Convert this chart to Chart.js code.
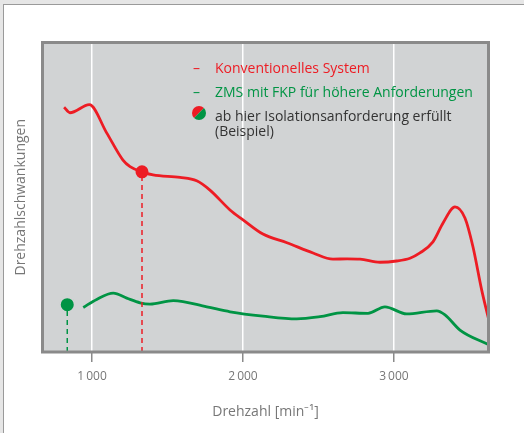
<!DOCTYPE html>
<html>
<head>
<meta charset="utf-8">
<script src="https://cdn.jsdelivr.net/npm/chart.js@4"></script>
<style>
  html, body { margin: 0; padding: 0; background: #e6e6e6; }
  #panel { position: absolute; left: 3px; top: 4px; width: 540px; height: 450px; background: #fff; border: 1px solid #9a9a9a; }
  #wrap { position: absolute; left: 0; top: 0; width: 524px; height: 433px; }
</style>
</head>
<body>
<div id="panel"></div>
<div id="wrap"><canvas id="chart" width="524" height="433"></canvas></div>
<script>
// Drehzahl [min-1] / relative Drehzahlschwankung (0..100)
const redX = [815, 854, 982, 1097, 1205, 1252, 1331, 1404, 1583, 1693, 1781, 1914, 2000, 2132, 2291, 2464, 2596, 2689, 2775, 2907, 3018, 3106, 3172, 3258, 3325, 3404, 3470, 3523, 3581, 3625];
const redY = [79.1, 77.3, 79.9, 70.8, 62.0, 59.9, 58.2, 57.2, 56.4, 55.3, 52.3, 45.9, 42.7, 38.1, 35.3, 32.0, 30.0, 30.1, 30.0, 29.0, 29.4, 30.3, 32.0, 35.6, 41.7, 46.9, 43.3, 34.0, 20.0, 11.0];

const greenX = [942, 1031, 1141, 1230, 1318, 1384, 1538, 1760, 1914, 2132, 2356, 2510, 2662, 2828, 2940, 3084, 3283, 3338, 3437, 3625];
const greenY = [14.4, 17.0, 19.0, 17.4, 15.9, 15.5, 16.6, 14.6, 13.0, 11.6, 10.7, 11.4, 12.7, 12.5, 14.6, 12.3, 13.3, 12.0, 7.1, 2.4];

// ab hier Isolationsanforderung erfuellt
const markRed = { x: 1331, y: 58.2 };
const markGreen = { x: 836, y: 15.3 };

const xTicks = [1000, 2000, 3000];
const legendItems = ["Konventionelles System", "ZMS mit FKP für höhere Anforderungen", "ab hier Isolationsanforderung erfüllt", "(Beispiel)"];

const RED = "#ed1c24";
const GREEN = "#009444";
const PLOTBG = "#d1d3d4";
const FONT = "'Open Sans', sans-serif";

const toPts = (xs, ys) => xs.map((x, i) => ({ x: x, y: ys[i] }));

const plotFrame = {
  id: "plotFrame",
  beforeDraw(chart) {
    const { ctx, chartArea: a } = chart;
    ctx.save();
    ctx.fillStyle = PLOTBG;
    ctx.fillRect(a.left, a.top, a.right - a.left, a.bottom - a.top);
    ctx.restore();
  },
  afterDatasetsDraw(chart) {
    const { ctx, chartArea: a } = chart;
    ctx.save();
    ctx.strokeStyle = "#8a8a8a";
    ctx.lineWidth = 3;
    ctx.strokeRect(a.left, a.top, a.right - a.left, a.bottom - a.top);
    ctx.restore();
  },
  afterDraw(chart) {
    const ctx = chart.ctx;
    ctx.save();
    ctx.font = "14px " + FONT;
    ctx.textBaseline = "middle";
    ctx.fillStyle = RED;
    ctx.fillText("–", 193, 69);
    ctx.fillText(legendItems[0], 215, 69);
    ctx.fillStyle = GREEN;
    ctx.fillText("–", 193, 93);
    ctx.fillText(legendItems[1], 215, 93);
    ctx.fillStyle = "#333";
    ctx.fillText(legendItems[2], 215, 117);
    ctx.fillText(legendItems[3], 215, 132);
    // split dot
    const cx = 199, cy = 113, r = 7;
    ctx.fillStyle = RED;
    ctx.beginPath();
    ctx.arc(cx, cy, r, 3 * Math.PI / 4, 7 * Math.PI / 4);
    ctx.closePath();
    ctx.fill();
    ctx.fillStyle = GREEN;
    ctx.beginPath();
    ctx.arc(cx, cy, r, -Math.PI / 4, 3 * Math.PI / 4);
    ctx.closePath();
    ctx.fill();
    ctx.restore();
  }
};

new Chart(document.getElementById("chart"), {
  type: "line",
  data: {
    datasets: [
      {
        data: [{ x: markRed.x, y: 0 }, { x: markRed.x, y: markRed.y }],
        borderColor: RED, borderWidth: 1.5, borderDash: [5, 4], pointRadius: 0
      },
      {
        data: [{ x: markGreen.x, y: 0 }, { x: markGreen.x, y: markGreen.y }],
        borderColor: GREEN, borderWidth: 1.5, borderDash: [5, 4], pointRadius: 0
      },
      {
        data: toPts(redX, redY),
        borderColor: RED, borderWidth: 2.8, pointRadius: 0, cubicInterpolationMode: "monotone"
      },
      {
        data: toPts(greenX, greenY),
        borderColor: GREEN, borderWidth: 2.8, pointRadius: 0, cubicInterpolationMode: "monotone"
      },
      {
        data: [markRed], showLine: false,
        pointRadius: 7.5, pointBackgroundColor: RED, pointBorderColor: PLOTBG, pointBorderWidth: 2
      },
      {
        data: [markGreen], showLine: false,
        pointRadius: 7.5, pointBackgroundColor: GREEN, pointBorderColor: PLOTBG, pointBorderWidth: 2
      }
    ]
  },
  options: {
    responsive: false,
    animation: false,
    events: [],
    layout: { padding: { left: 0, top: 42.5, right: 35.5, bottom: 0 } },
    plugins: { legend: { display: false }, tooltip: { enabled: false } },
    scales: {
      x: {
        type: "linear",
        min: 672,
        max: 3626,
        afterBuildTicks: (s) => { s.ticks = xTicks.map(v => ({ value: v })); },
        afterFit: (s) => { s.height = 81; },
        grid: { color: "#ffffff", lineWidth: 1.5, tickColor: "#8a8a8a", tickLength: 10, drawOnChartArea: true },
        border: { display: false },
        ticks: {
          color: "#777",
          font: { family: FONT, size: 12 },
          padding: 7,
          maxRotation: 0,
          callback: (v) => String(v).replace(/^(\d)(\d{3})$/, "$1\u2009$2")
        },
        title: {
          display: true,
          text: "Drehzahl [min⁻¹]",
          color: "#777",
          font: { family: FONT, size: 14 },
          padding: { top: 0, bottom: 13 }
        }
      },
      y: {
        min: 0,
        max: 100,
        afterFit: (s) => { s.width = 42.5; },
        grid: { display: false },
        border: { display: false },
        ticks: { display: false },
        title: {
          display: true,
          text: "Drehzahlschwankungen",
          color: "#777",
          font: { family: FONT, size: 14 },
          padding: { top: 13, bottom: 0 }
        }
      }
    }
  },
  plugins: [plotFrame]
});
</script>
</body>
</html>
